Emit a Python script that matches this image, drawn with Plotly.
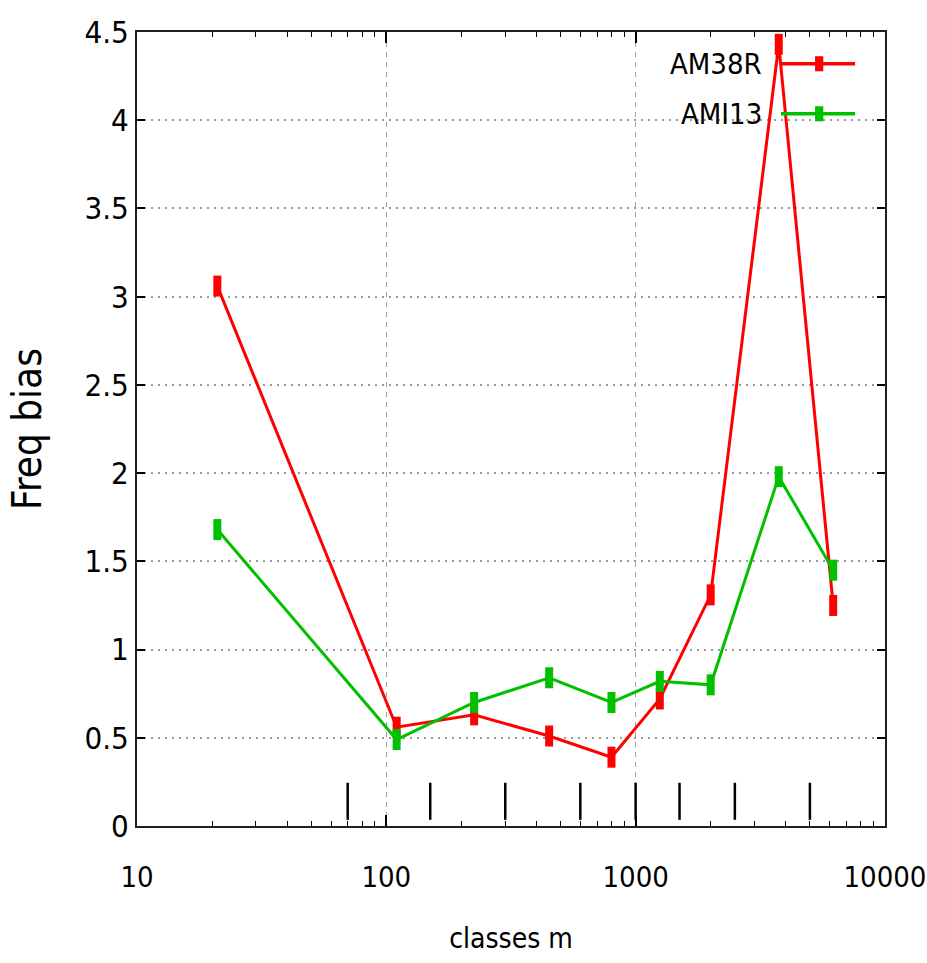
import plotly.graph_objects as go

# ---- data ----
classes_m = [21, 110, 225, 450, 800, 1250, 2000, 3750, 6200]
am38r = [3.06, 0.56, 0.63, 0.51, 0.39, 0.72, 1.31, 4.43, 1.25]
ami13 = [1.68, 0.49, 0.70, 0.84, 0.70, 0.82, 0.80, 1.98, 1.45]
series_names = ["AM38R", "AMI13"]
series_colors = ["#ff0000", "#00c000"]
boundaries = [70, 150, 300, 600, 1000, 1500, 2500, 5000]
boundary_low, boundary_high = 0.035, 0.245
x_ticks = [10, 100, 1000, 10000]
y_ticks = [0, 0.5, 1, 1.5, 2, 2.5, 3, 3.5, 4, 4.5]
y_tick_text = ["0", "0.5", "1", "1.5", "2", "2.5", "3", "3.5", "4", "4.5"]

FONT = "Liberation Sans Narrow, DejaVu Sans Condensed, Roboto Condensed, DejaVu Sans, sans-serif"

fig = go.Figure()

# class boundary bars
bx, by = [], []
for b in boundaries:
    bx += [b, b, None]
    by += [boundary_low, boundary_high, None]
fig.add_trace(go.Scatter(x=bx, y=by, mode="lines", line=dict(color="black", width=2.5),
                         showlegend=False, hoverinfo="skip"))

for name, ys, col in zip(series_names, [am38r, ami13], series_colors):
    fig.add_trace(go.Scatter(
        x=classes_m, y=ys, mode="lines+markers", name=name,
        line=dict(color=col, width=3),
        marker=dict(symbol="line-ns", size=15, color=col, line=dict(color=col, width=8)),
        showlegend=False,
    ))

# manual gnuplot-style legend (text on left, sample on right)
leg_y = [0.960, 0.897]
for name, col, yy in zip(series_names, series_colors, leg_y):
    fig.add_annotation(xref="paper", yref="paper", x=0.838, y=yy, text=name,
                       showarrow=False, xanchor="right", yanchor="middle",
                       font=dict(family=FONT, size=29, color="black"))
    fig.add_shape(type="line", xref="paper", yref="paper", x0=0.861, x1=0.960, y0=yy, y1=yy,
                  line=dict(color=col, width=3.5))
    fig.add_shape(type="rect", xref="paper", yref="paper", x0=0.9065, x1=0.9175,
                  y0=yy - 0.0095, y1=yy + 0.0095, line=dict(width=0), fillcolor=col)

minor_vals = []
for dec in [10, 100, 1000]:
    minor_vals += [dec * k for k in range(2, 10)]

fig.update_xaxes(
    type="log", range=[1, 4.0002], automargin=False,
    tickvals=x_ticks, ticktext=[str(v) for v in x_ticks],
    ticks="inside", ticklen=11, tickwidth=1.5, tickcolor="black",
    minor=dict(tickvals=minor_vals, ticks="inside", ticklen=5, tickwidth=1.2, tickcolor="black", showgrid=False),
    showline=True, linecolor="#202020", linewidth=2, mirror="allticks",
    showgrid=True, gridcolor="#a0a0a0", griddash="5px,5px", gridwidth=1.2,
    zeroline=False,
    tickfont=dict(family=FONT, size=29, color="black"),
    ticklabelstandoff=24, ticklabeloverflow="allow",
    title=dict(text="classes m", font=dict(family=FONT, size=28, color="black"), standoff=36),
)
fig.update_yaxes(
    range=[0, 4.5], automargin=False, tickvals=y_ticks, ticktext=y_tick_text,
    ticks="inside", ticklen=8, tickwidth=1.5, tickcolor="black",
    showline=True, linecolor="#202020", linewidth=2, mirror="allticks",
    showgrid=True, gridcolor="#9a9a9a", griddash="2px,5px", gridwidth=1.6,
    zeroline=False,
    tickfont=dict(family=FONT, size=31, color="black"),
    title=dict(text="Freq bias", font=dict(family=FONT, size=40, color="black"), standoff=30),
)

fig.update_layout(
    width=927, height=963,
    margin=dict(l=137, r=42, t=32, b=137),
    plot_bgcolor="white", paper_bgcolor="white",
)

fig.write_html("out.html")
